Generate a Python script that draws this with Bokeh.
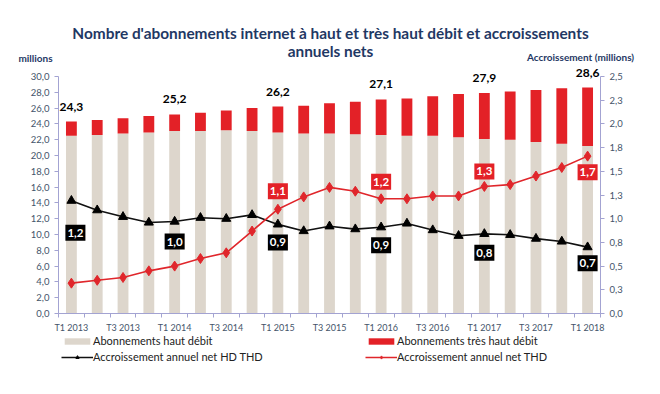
from bokeh.plotting import figure
from bokeh.layouts import column
from bokeh.models import (Range1d, LinearAxis, FixedTicker, ColumnDataSource,
                          Legend, LegendItem, Label)
from bokeh.core.properties import value
from bokeh.embed import file_html
from bokeh.resources import INLINE

# ---------------- data ----------------
quarters = ["T1 2013", "T2 2013", "T3 2013", "T4 2013",
            "T1 2014", "T2 2014", "T3 2014", "T4 2014",
            "T1 2015", "T2 2015", "T3 2015", "T4 2015",
            "T1 2016", "T2 2016", "T3 2016", "T4 2016",
            "T1 2017", "T2 2017", "T3 2017", "T4 2017",
            "T1 2018"]
# total subscriptions (millions)
total = [24.3, 24.5, 24.7, 25.0, 25.2, 25.4, 25.7, 26.0, 26.2, 26.3, 26.6,
         26.8, 27.1, 27.2, 27.5, 27.8, 27.9, 28.1, 28.3, 28.5, 28.6]
# haut debit subscriptions (millions)
haut_debit = [22.5, 22.6, 22.8, 22.9, 23.1, 23.1, 23.2, 23.1, 22.9, 22.8, 22.8,
              22.7, 22.6, 22.5, 22.5, 22.3, 22.1, 22.0, 21.7, 21.5, 21.2]
tres_haut_debit = [round(t - h, 1) for t, h in zip(total, haut_debit)]
# annual net growth (millions)
accr_hd_thd = [1.19, 1.09, 1.02, 0.96, 0.97, 1.01, 1.00, 1.04, 0.94, 0.87, 0.92,
               0.89, 0.91, 0.95, 0.88, 0.82, 0.84, 0.83, 0.79, 0.76, 0.70]
accr_thd = [0.32, 0.35, 0.38, 0.45, 0.50, 0.58, 0.64, 0.87, 1.10, 1.23, 1.33,
            1.29, 1.21, 1.21, 1.24, 1.24, 1.34, 1.36, 1.45, 1.54, 1.66]
labelled = [0, 4, 8, 12, 16, 20]
red_labelled = [8, 12, 16, 20]
left_ticks = [0, 2, 4, 6, 8, 10, 12, 14, 16, 18, 20, 22, 24, 26, 28, 30]
right_ticks = [0, 0.25, 0.5, 0.75, 1.0, 1.25, 1.5, 1.75, 2.0, 2.25, 2.5]
LEFT_MAX, RIGHT_MAX = 30, 2.5
legend_labels = ["Abonnements haut débit", "Abonnements très haut débit",
                 "Accroissement annuel net HD THD", "Accroissement annuel net THD"]

# ---------------- styles ----------------
BEIGE = "#DDD6CC"
RED = "#E32127"
LINE_RED = "#E0262B"
NAVY = "#1F3864"
TICK_TXT = "#44546A"
AXIS_COL = "#A3A3D2"
FONT = "Lato"

def fr(v, nd=1):
    return f"{v + 1e-9:.{nd}f}".replace(".", ",")

W = 660
HEAD_H = 64
MAIN_H = 271
FOOT_H = 394 - HEAD_H - MAIN_H
AXIS_PX = 237     # pixel height of the 0..30 axis span
FRAME_PX = 249    # pixel height of plotting frame (extends above the axis)

# ---------------- header (title and axis captions) ----------------
head = figure(width=W, height=HEAD_H, x_range=Range1d(0, W), y_range=Range1d(0, HEAD_H),
              output_backend="svg", toolbar_location=None, x_axis_type=None,
              y_axis_type=None, min_border=0)
head.frame_align = False
head.outline_line_color = None
head.grid.visible = False
head.add_layout(Label(x=330, y=HEAD_H - 32.7,
                      text="Nombre d'abonnements internet à haut et très haut débit et accroissements",
                      text_font=FONT, text_font_style="bold", text_font_size="15.4px",
                      text_color=NAVY, text_align="center", text_baseline="middle"))
head.add_layout(Label(x=330, y=HEAD_H - 50.7, text="annuels nets",
                      text_font=FONT, text_font_style="bold", text_font_size="15.4px",
                      text_color=NAVY, text_align="center", text_baseline="middle"))
head.add_layout(Label(x=35, y=HEAD_H - 57.5, text="millions",
                      text_font=FONT, text_font_style="bold", text_font_size="10px",
                      text_color=NAVY, text_align="center", text_baseline="middle"))
head.add_layout(Label(x=580, y=HEAD_H - 56.5, text="Accroissement (millions)",
                      text_font=FONT, text_font_style="bold", text_font_size="10px",
                      text_color=NAVY, text_align="center", text_baseline="middle"))

# ---------------- main chart ----------------
p = figure(width=W, height=MAIN_H, x_range=Range1d(-0.5, 20.5),
           y_range=Range1d(0, LEFT_MAX * FRAME_PX / AXIS_PX),
           output_backend="svg", toolbar_location=None,
           min_border_left=58, min_border_right=60, min_border_top=0,
           min_border_bottom=MAIN_H - FRAME_PX)
p.extra_y_ranges = {"accr": Range1d(0, RIGHT_MAX * FRAME_PX / AXIS_PX)}
p.outline_line_color = None
p.xgrid.visible = False
p.ygrid.visible = False

idx = list(range(len(quarters)))
src = ColumnDataSource(dict(x=idx, hd=haut_debit, thd=tres_haut_debit, total=total,
                            a1=accr_hd_thd, a2=accr_thd))

p.vbar(x="x", bottom=0, top="hd", width=0.42, fill_color=BEIGE, line_color=None, source=src)
p.vbar(x="x", bottom="hd", top="total", width=0.42, fill_color=RED, line_color=None, source=src)

p.line("x", "a1", y_range_name="accr", line_color="#111111", line_width=1.6, source=src)
p.scatter("x", "a1", y_range_name="accr", marker="triangle", size=9,
          fill_color="black", line_color="black", source=src)
p.line("x", "a2", y_range_name="accr", line_color=LINE_RED, line_width=1.6, source=src)
p.scatter("x", "a2", y_range_name="accr", marker="diamond", size=10,
          fill_color=LINE_RED, line_color=LINE_RED, source=src)

# total labels above bars
tot_src = ColumnDataSource(dict(x=[idx[i] for i in labelled],
                                y=[total[i] for i in labelled],
                                t=[fr(total[i]) for i in labelled]))
p.text("x", "y", text="t", source=tot_src, text_font=value(FONT), text_font_style="bold",
       text_font_size="12px", text_color="black", text_align="center",
       text_baseline="middle", y_offset=-15)

# black boxes (HD THD growth)
blk_src = ColumnDataSource(dict(x=[idx[i] for i in labelled],
                                y=[accr_hd_thd[i] for i in labelled],
                                t=[fr(accr_hd_thd[i]) for i in labelled],
                                yo=[32, 20, 18, 18, 19, 16], xo=[4, 0, 0, 0, 0, 0]))
p.text("x", "y", text="t", source=blk_src, y_range_name="accr", text_font=value(FONT),
       text_font_style="bold", text_font_size="11.5px", text_color="white",
       text_align="center", text_baseline="middle", x_offset="xo", y_offset="yo",
       background_fill_color="black", padding=(2, 4))

red_src = ColumnDataSource(dict(x=[idx[i] for i in red_labelled],
                                y=[accr_thd[i] for i in red_labelled],
                                t=[fr(accr_thd[i]) for i in red_labelled],
                                yo=[-18, -17, -15, 16]))
p.text("x", "y", text="t", source=red_src, y_range_name="accr", text_font=value(FONT),
       text_font_style="bold", text_font_size="11.5px", text_color="white",
       text_align="center", text_baseline="middle", y_offset="yo",
       background_fill_color=RED, padding=(2, 4))

# axes
xa = p.xaxis[0]
xa.ticker = FixedTicker(ticks=idx[::2], minor_ticks=[i - 0.5 for i in range(len(quarters) + 1)])
xa.major_label_overrides = {i: quarters[i] for i in idx[::2]}
xa.major_tick_line_color = None
xa.major_tick_out = 0
xa.major_tick_in = 0
xa.minor_tick_out = 4
xa.minor_tick_in = 0
xa.minor_tick_line_color = AXIS_COL
xa.axis_line_color = AXIS_COL
xa.major_label_text_font = FONT
xa.major_label_text_font_size = "9px"
xa.major_label_text_color = TICK_TXT
xa.major_label_standoff = 4

ya = p.yaxis[0]
ya.ticker = FixedTicker(ticks=left_ticks)
ya.bounds = (0, LEFT_MAX)
ya.major_label_overrides = {t: fr(t) for t in left_ticks}
ya.major_tick_out = 4
ya.major_tick_in = 0
ya.minor_tick_line_color = None
ya.axis_line_color = AXIS_COL
ya.major_tick_line_color = AXIS_COL
ya.major_label_text_font = FONT
ya.major_label_text_font_size = "9.5px"
ya.major_label_text_color = TICK_TXT
ya.major_label_standoff = 5

ra = LinearAxis(y_range_name="accr", ticker=FixedTicker(ticks=right_ticks),
                bounds=(0, RIGHT_MAX))
ra.major_label_overrides = {t: fr(t) for t in right_ticks}
ra.major_tick_out = 4
ra.major_tick_in = 0
ra.minor_tick_line_color = None
ra.axis_line_color = AXIS_COL
ra.major_tick_line_color = AXIS_COL
ra.major_label_text_font = FONT
ra.major_label_text_font_size = "9.5px"
ra.major_label_text_color = TICK_TXT
ra.major_label_standoff = 5
p.add_layout(ra, "right")

# ---------------- footer (legend) ----------------
foot = figure(width=W, height=FOOT_H, x_range=Range1d(0, 1), y_range=Range1d(0, 1),
              output_backend="svg", toolbar_location=None, x_axis_type=None,
              y_axis_type=None, min_border=0)
foot.frame_align = False
foot.outline_line_color = None
foot.grid.visible = False
# legend proxies (kept outside the visible range; only their legend glyphs are shown)
g_hd = foot.vbar(x=[-5], top=[-5], width=0.1, fill_color=BEIGE, line_color=None)
g_thd = foot.vbar(x=[-5], top=[-5], width=0.1, fill_color=RED, line_color=None)
g_l1 = foot.line(x=[-5, -4], y=[-5, -5], line_color="#111111", line_width=1.4)
g_m1 = foot.scatter(x=[-5], y=[-5], marker="triangle", size=9, fill_color="black", line_color="black")
g_l2 = foot.line(x=[-5, -4], y=[-5, -5], line_color=LINE_RED, line_width=1.4)
g_m2 = foot.scatter(x=[-5], y=[-5], marker="diamond", size=10, fill_color=LINE_RED, line_color=LINE_RED)

LEG_TOP = 336.3 - (HEAD_H + MAIN_H)   # legend top inside footer (px)
legend = Legend(items=[
    LegendItem(label=legend_labels[0], renderers=[g_hd]),
    LegendItem(label=legend_labels[1], renderers=[g_thd]),
    LegendItem(label=legend_labels[2], renderers=[g_l1, g_m1]),
    LegendItem(label=legend_labels[3], renderers=[g_l2, g_m2]),
], location=(61, FOOT_H - LEG_TOP - 27), orientation="horizontal", ncols=2)
legend.glyph_width = 32
legend.glyph_height = 8
legend.label_width = 269
legend.label_height = 12
legend.label_standoff = 0
legend.spacing = 3
legend.padding = 0
legend.margin = 0
legend.border_line_color = None
legend.background_fill_alpha = 0
legend.label_text_font = FONT
legend.label_text_font_size = "11px"
legend.label_text_color = "#222222"
foot.add_layout(legend, "center")

layout = column(head, p, foot, spacing=0)
open("out.html", "w").write(file_html(layout, INLINE))
